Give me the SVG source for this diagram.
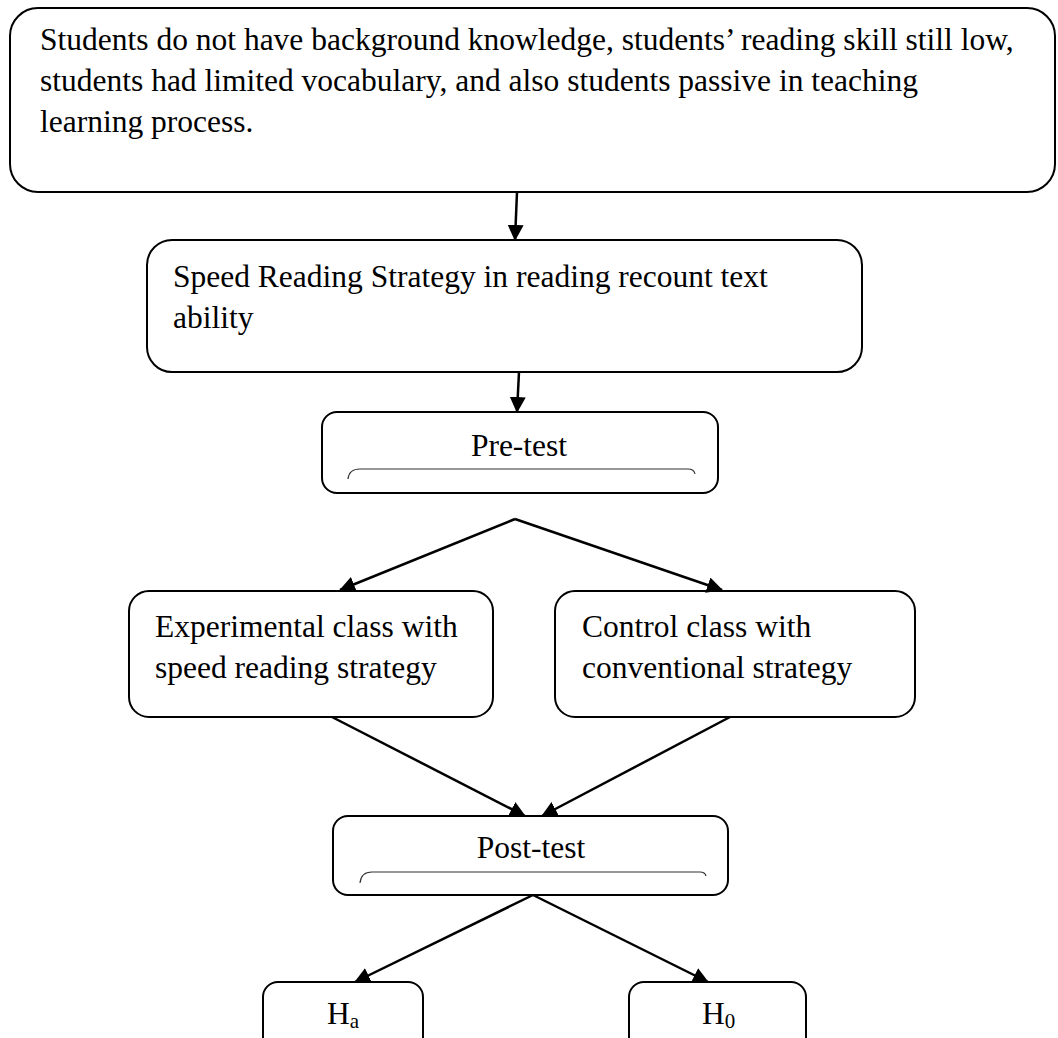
<svg xmlns="http://www.w3.org/2000/svg" width="1058" height="1038" viewBox="0 0 1058 1038">
<style>
.box{fill:#fff;stroke:#000;stroke-width:2}
.t{font-family:"Liberation Serif","Times New Roman",serif;font-size:31.5px;fill:#000}
.c{text-anchor:middle}
.sub{font-size:21px}
.conn line{stroke:#000;stroke-width:2.5;fill:none}
.brace{fill:none;stroke:#333;stroke-width:1.2}
</style>
<defs>
<marker id="ah" markerUnits="userSpaceOnUse" markerWidth="16" markerHeight="16" refX="15" refY="8" orient="auto" viewBox="0 0 16 16">
<path d="M0,0 L16,8 L0,16 z" fill="#000"/>
</marker>
</defs>
<rect width="1058" height="1038" fill="#fff"/>
<g id="problem">
<rect class="box" x="10" y="8" width="1045" height="184" rx="28"/>
<text class="t" x="40" y="50">Students do not have background knowledge, students’ reading skill still low,</text>
<text class="t" x="40" y="91">students had limited vocabulary, and also students passive in teaching</text>
<text class="t" x="40" y="132">learning process.</text>
</g>
<g id="strategy">
<rect class="box" x="147" y="240" width="715" height="132" rx="25"/>
<text class="t" x="173" y="287">Speed Reading Strategy in reading recount text</text>
<text class="t" x="173" y="328">ability</text>
</g>
<g id="pretest">
<rect class="box" x="322" y="412" width="396" height="81" rx="15"/>
<text class="t c" x="519" y="456">Pre-test</text>
<path class="brace" d="M348,479 Q349,469 360,469 L688,469 Q694,469 695,474"/>
</g>
<g id="experimental">
<rect class="box" x="129" y="591" width="364" height="126" rx="20"/>
<text class="t" x="155" y="637">Experimental class with</text>
<text class="t" x="155" y="678">speed reading strategy</text>
</g>
<g id="control">
<rect class="box" x="555" y="591" width="360" height="126" rx="20"/>
<text class="t" x="582" y="637">Control class with</text>
<text class="t" x="582" y="678">conventional strategy</text>
</g>
<g id="posttest">
<rect class="box" x="333" y="816" width="395" height="79" rx="15"/>
<text class="t c" x="531" y="858">Post-test</text>
<path class="brace" d="M360,883 Q361,872 372,872 L700,872 Q705,872 706,876"/>
</g>
<g id="ha">
<rect class="box" x="263" y="982" width="160" height="80" rx="15"/>
<text class="t" x="327" y="1024">H<tspan class="sub" dy="4">a</tspan></text>
</g>
<g id="h0">
<rect class="box" x="629" y="982" width="177" height="80" rx="15"/>
<text class="t" x="702" y="1024">H<tspan class="sub" dy="4">0</tspan></text>
</g>
<g id="connectors" class="conn">
<line x1="517" y1="192" x2="515" y2="240" marker-end="url(#ah)"/>
<line x1="519" y1="372" x2="517" y2="412" marker-end="url(#ah)"/>
<line x1="515" y1="519" x2="340" y2="590" marker-end="url(#ah)"/>
<line x1="515" y1="519" x2="722" y2="590" marker-end="url(#ah)"/>
<line x1="332" y1="717" x2="525" y2="816" marker-end="url(#ah)"/>
<line x1="730" y1="717" x2="542" y2="816" marker-end="url(#ah)"/>
<line x1="533" y1="895" x2="355" y2="982" marker-end="url(#ah)"/>
<line x1="533" y1="895" x2="708" y2="982" marker-end="url(#ah)"/>
</g>
</svg>
